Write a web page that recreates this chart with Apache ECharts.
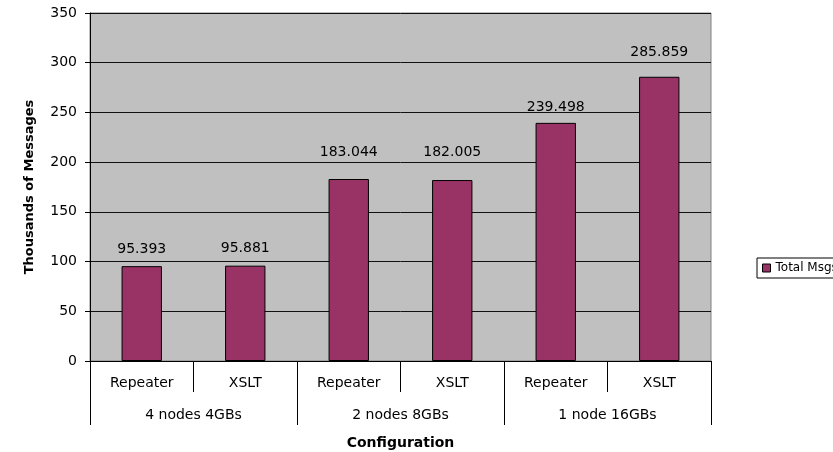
<!DOCTYPE html>
<html>
<head>
<meta charset="utf-8">
<script src="https://cdn.jsdelivr.net/npm/echarts@6/dist/echarts.min.js"></script>
<style>
  html, body { margin: 0; padding: 0; background: #fff; }
  #chart { width: 833px; height: 452px; }
</style>
</head>
<body>
<div id="chart"></div>
<script>
// Message throughput per configuration (thousands of messages)
const methods = ['Repeater', 'XSLT', 'Repeater', 'XSLT', 'Repeater', 'XSLT'];
const configs = ['4 nodes 4GBs', '2 nodes 8GBs', '1 node 16GBs'];
const totalMsgs = [95.393, 95.881, 183.044, 182.005, 239.498, 285.859];
const seriesName = 'Total Msgs';

// Layout: space between each bar top and its value label (px)
const labelGap = [10, 10, 20, 21, 9, 17];

const font = 'DejaVu Sans, Verdana, sans-serif';
const chart = echarts.init(document.getElementById('chart'), null, { renderer: 'canvas' });

const barData = totalMsgs.map((v, i) => ({
  value: v,
  label: { distance: labelGap[i] }
}));

chart.setOption({
  animation: false,
  textStyle: { fontFamily: font },
  grid: {
    left: 90, right: 122, top: 13, bottom: 91,
    containLabel: false,
    outerBoundsMode: 'none',
    show: true, backgroundColor: '#C0C0C0', borderColor: '#808080', borderWidth: 1
  },
  legend: {
    data: [{ name: seriesName, icon: 'rect' }],
    left: 757, top: 258,
    orient: 'vertical',
    borderColor: '#000', borderWidth: 1,
    padding: [4, 6, 4, 5],
    itemWidth: 8, itemHeight: 8, itemGap: 4,
    itemStyle: { borderColor: '#000', borderWidth: 1 },
    textStyle: { fontSize: 12, color: '#000', fontFamily: font }
  },
  xAxis: [
    {
      type: 'category',
      data: methods,
      position: 'bottom',
      axisLine: { lineStyle: { color: '#000', width: 1 } },
      axisTick: { show: true, length: 31, lineStyle: { color: '#000' } },
      axisLabel: { color: '#000', fontSize: 14, margin: 15, fontFamily: font },
      splitLine: { show: false }
    },
    {
      type: 'category',
      data: configs,
      position: 'bottom',
      axisLine: { show: false },
      axisTick: { show: true, length: 64, lineStyle: { color: '#000' } },
      axisLabel: { color: '#000', fontSize: 14, margin: 47, fontFamily: font },
      name: 'Configuration',
      nameLocation: 'middle',
      nameGap: 75,
      nameTextStyle: { fontWeight: 'bold', fontSize: 14, color: '#000', fontFamily: font }
    }
  ],
  yAxis: {
    type: 'value',
    min: 0, max: 350, interval: 50,
    name: 'Thousands of Messages',
    nameLocation: 'middle',
    nameGap: 54,
    nameRotate: 90,
    nameTextStyle: { fontWeight: 'bold', fontSize: 13, color: '#000', fontFamily: font },
    axisLine: { show: true, lineStyle: { color: '#000', width: 1 } },
    axisTick: { show: true, length: 5, lineStyle: { color: '#000' } },
    axisLabel: { color: '#000', fontSize: 14, margin: 13, fontFamily: font },
    splitLine: { show: true, lineStyle: { color: '#111', width: 1 } }
  },
  series: [{
    name: seriesName,
    type: 'bar',
    xAxisIndex: 0,
    data: barData,
    barWidth: '39%',
    itemStyle: { color: '#993366', borderColor: '#000', borderWidth: 1 },
    label: {
      show: true, position: 'top',
      color: '#000', fontSize: 14, fontFamily: font,
      formatter: p => p.value.toFixed(3)
    }
  }]
});
</script>
</body>
</html>
